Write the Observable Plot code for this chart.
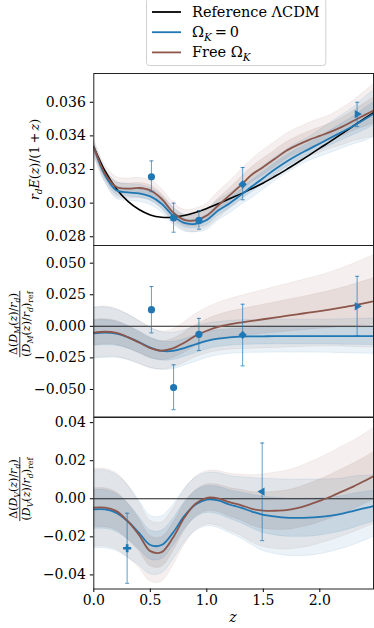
<!DOCTYPE html>
<html><head><meta charset="utf-8">
<script src="https://cdn.jsdelivr.net/npm/d3@7"></script>
<script src="https://cdn.jsdelivr.net/npm/@observablehq/plot@0.6"></script>
<style>
body{margin:0;background:#fff;}
#wrap{position:relative;width:374px;height:628px;overflow:hidden;font-family:"DejaVu Serif",serif;}
#wrap > svg{position:absolute;left:0;overflow:visible;}
</style></head><body><div id="wrap"></div>
<script>
// ---------- data ----------
const zGrid = [0,0.1,0.2,0.3,0.4,0.5,0.6,0.7,0.8,0.9,1.0,1.1,1.2,1.3,1.4,1.5,1.6,1.7,1.8,1.9,2.0,2.1,2.2,2.3,2.4,2.5];

// panel 1: r_d E(z)/(1+z)
const hzRef   = [0.03334,0.03190,0.03086,0.03012,0.02962,0.02930,0.02916,0.02916,0.02926,0.02944,0.02968,0.02996,0.03026,0.03055,0.03087,0.03120,0.03158,0.03198,0.03240,0.03283,0.03327,0.03370,0.03415,0.03460,0.03505,0.03550];
const hzFlat  = [0.03334,0.03165,0.03076,0.03064,0.03058,0.03040,0.02996,0.02926,0.02882,0.02877,0.02900,0.02956,0.02998,0.03048,0.03100,0.03150,0.03200,0.03245,0.03285,0.03320,0.03355,0.03390,0.03425,0.03460,0.03500,0.03540];
const hzFree  = [0.03334,0.03175,0.03096,0.03086,0.03090,0.03076,0.03026,0.02946,0.02900,0.02897,0.02926,0.02986,0.03046,0.03106,0.03170,0.03215,0.03262,0.03310,0.03345,0.03375,0.03400,0.03425,0.03455,0.03490,0.03525,0.03560];
const hzFlatSig = [0.0002,0.0002,0.00025,0.00025,0.00025,0.00025,0.00025,0.00025,0.00025,0.00025,0.0003,0.0003,0.0003,0.0003,0.00035,0.00035,0.00035,0.00035,0.00035,0.00035,0.0004,0.00045,0.0005,0.00055,0.00065,0.0007];
const hzFreeSig = [0.00025,0.00025,0.0003,0.0003,0.0003,0.0003,0.0003,0.0003,0.0003,0.00035,0.00035,0.0004,0.0004,0.00045,0.00045,0.0005,0.0005,0.0005,0.0005,0.0005,0.0005,0.0005,0.00055,0.0006,0.0007,0.0008];

// panel 2: Delta(D_M/r_d)/(D_M/r_d)_ref
const dmFlat = [-0.0055,-0.0050,-0.0058,-0.0085,-0.0125,-0.0168,-0.0195,-0.0195,-0.0172,-0.0142,-0.0115,-0.0098,-0.0088,-0.0082,-0.0080,-0.0079,-0.0078,-0.0078,-0.0078,-0.0078,-0.0078,-0.0078,-0.0078,-0.0078,-0.0078,-0.0078];
const dmFree = [-0.0050,-0.0043,-0.0052,-0.0085,-0.0128,-0.0172,-0.0192,-0.0175,-0.0130,-0.0075,-0.0035,-0.0005,0.0015,0.0030,0.0043,0.0056,0.0069,0.0082,0.0095,0.0108,0.0121,0.0135,0.0150,0.0166,0.0184,0.0203];
const dmFlatSig = [0.010,0.010,0.0095,0.009,0.0085,0.008,0.0075,0.0072,0.007,0.007,0.0068,0.0066,0.0065,0.0065,0.0065,0.0065,0.0065,0.0065,0.0065,0.0065,0.0065,0.0066,0.0067,0.0068,0.0069,0.007];
const dmFreeSig = [0.010,0.010,0.0095,0.009,0.0085,0.008,0.0075,0.0075,0.008,0.0085,0.009,0.0095,0.010,0.0105,0.011,0.0115,0.012,0.0125,0.013,0.0135,0.014,0.0147,0.0155,0.0165,0.0175,0.0185];

// panel 3: Delta(D_V/r_d)/(D_V/r_d)_ref
const dvFlat = [-0.0056,-0.0056,-0.0074,-0.0118,-0.0179,-0.0243,-0.0243,-0.0179,-0.0091,-0.0030,-0.0004,-0.0009,-0.0030,-0.0047,-0.0067,-0.0085,-0.0093,-0.0099,-0.0100,-0.0099,-0.0095,-0.0088,-0.0078,-0.0063,-0.0049,-0.0035];
const dvFree = [-0.0047,-0.0047,-0.0065,-0.0118,-0.0190,-0.0275,-0.0280,-0.0205,-0.0100,-0.0026,0.0005,0.0002,-0.0018,-0.0033,-0.0053,-0.0062,-0.0063,-0.0060,-0.0049,-0.0032,-0.0011,0.0012,0.0039,0.0065,0.0095,0.0127];
const dvFlatSig = [0.0102,0.0102,0.010,0.0095,0.0085,0.0077,0.0075,0.0072,0.007,0.007,0.007,0.0072,0.0075,0.008,0.0088,0.0095,0.0098,0.010,0.010,0.010,0.0098,0.0095,0.0092,0.009,0.0085,0.008];
const dvFreeSig = [0.0102,0.0102,0.010,0.0095,0.0085,0.008,0.0078,0.0075,0.0072,0.007,0.007,0.0072,0.0075,0.008,0.0088,0.0095,0.010,0.0103,0.0106,0.011,0.0112,0.0115,0.0118,0.012,0.0123,0.0127];

// measurements
const ptZ     = [0.51,0.706,0.93,1.317,2.33];
const ptShape = ["circle","circle","circle","diamond","triRight"];
const hzVal = [0.03157,0.02912,0.02897,0.03112,0.03530];
const hzHi  = [0.03251,0.03000,0.02956,0.03212,0.03600];
const hzLo  = [0.03068,0.02827,0.02845,0.03020,0.03455];
const dmVal = [0.0132,-0.0485,-0.0063,-0.0068,0.0158];
const dmHi  = [0.0315,-0.0305,0.0063,0.0175,0.0396];
const dmLo  = [-0.0052,-0.0660,-0.0192,-0.0313,-0.0075];
const dvZ     = [0.295,1.49];
const dvShape = ["plus","triLeft"];
const dvVal = [-0.0260,0.0038];
const dvHi  = [-0.0076,0.0293];
const dvLo  = [-0.0444,-0.0220];

const xTicks = [0,0.5,1.0,1.5,2.0];
const hzTicks = [0.028,0.030,0.032,0.034,0.036];
const dmTicks = [-0.050,-0.025,0,0.025,0.050];
const dvTicks = [-0.04,-0.02,0,0.02,0.04];

// ---------- styling ----------
const BLUE = "#1f77b4", BROWN = "#8c564b";
const FONT = '"DejaVu Serif", serif';

const symbols = {
  circle: "circle",
  plus: "cross",
  diamond: {draw(c, s){ const r = Math.sqrt(s/Math.PI)*1.25; c.moveTo(0,-r); c.lineTo(r,0); c.lineTo(0,r); c.lineTo(-r,0); c.closePath(); }},
  triRight: {draw(c, s){ const r = Math.sqrt(s/Math.PI)*1.45; c.moveTo(r,0); c.lineTo(-r/2,-r*0.866); c.lineTo(-r/2,r*0.866); c.closePath(); }},
  triLeft: {draw(c, s){ const r = Math.sqrt(s/Math.PI)*1.45; c.moveTo(-r,0); c.lineTo(r/2,-r*0.866); c.lineTo(r/2,r*0.866); c.closePath(); }}
};
const capSymbol = {draw(c, s){ const w = Math.sqrt(s/Math.PI); c.moveTo(-w,0); c.lineTo(w,0); }};

function band(c, s, k){ return zGrid.map((z,i)=>({z, lo:c[i]-k*s[i], hi:c[i]+k*s[i]})); }
function line(c){ return zGrid.map((z,i)=>({z, v:c[i]})); }

function modelBands(flat, flatSig, free, freeSig){
  const o = {x:"z", y1:"lo", y2:"hi", curve:"catmull-rom", clip:true, strokeWidth:0.8};
  return [
    Plot.areaY(band(free, freeSig, 2), {...o, fill:BROWN, fillOpacity:0.09, stroke:BROWN, strokeOpacity:0.1}),
    Plot.areaY(band(flat, flatSig, 2), {...o, fill:BLUE, fillOpacity:0.09, stroke:BLUE, strokeOpacity:0.12}),
    Plot.areaY(band(free, freeSig, 1), {...o, fill:BROWN, fillOpacity:0.13, stroke:BROWN, strokeOpacity:0.1}),
    Plot.areaY(band(flat, flatSig, 1), {...o, fill:BLUE, fillOpacity:0.13, stroke:BLUE, strokeOpacity:0.12})
  ];
}
function modelLines(flat, free){
  return [
    Plot.line(line(flat), {x:"z", y:"v", stroke:BLUE, strokeWidth:1.8, curve:"catmull-rom", clip:true}),
    Plot.line(line(free), {x:"z", y:"v", stroke:BROWN, strokeWidth:1.8, curve:"catmull-rom", clip:true})
  ];
}
function pointMarks(zs, shapes, vals, lo, hi){
  const d = zs.map((z,i)=>({z, v:vals[i], lo:lo[i], hi:hi[i], s:shapes[i]}));
  const marks = [
    Plot.ruleX(d, {x:"z", y1:"lo", y2:"hi", stroke:BLUE, strokeOpacity:0.7, strokeWidth:1}),
    Plot.dot(d, {x:"z", y:"lo", symbol:capSymbol, r:2, stroke:BLUE, strokeOpacity:0.8, fill:"none", strokeWidth:1}),
    Plot.dot(d, {x:"z", y:"hi", symbol:capSymbol, r:2, stroke:BLUE, strokeOpacity:0.8, fill:"none", strokeWidth:1})
  ];
  for (const k of Object.keys(symbols)) {
    const sub = d.filter(p => p.s === k);
    if (!sub.length) continue;
    const r = k === "circle" ? 3.6 : k === "plus" ? 3.4 : 3.3;
    marks.push(Plot.dot(sub, {x:"z", y:"v", symbol:symbols[k], r, fill:BLUE, stroke:"none"}));
  }
  return marks;
}

function panel({top, plotH, mb, ydom, yticks, yfmt, marks, showX}){
  const svg = Plot.plot({
    width:374, height: 3 + plotH + mb,
    marginLeft:93.3, marginRight:1, marginTop:3, marginBottom:mb,
    style:{fontFamily:FONT, fontSize:"14px", color:"#000", background:"transparent", overflow:"visible"},
    x: showX ? {domain:[0,2.475], ticks:xTicks, tickFormat:d3.format(".1f"), tickSize:3.5, tickPadding:3, label:null}
             : {domain:[0,2.475], axis:null},
    y: {domain:ydom, ticks:yticks, tickFormat:d3.format(yfmt), tickSize:3.5, tickPadding:4.5, label:null},
    marks:[...marks, Plot.frame({stroke:"#222", strokeWidth:1})]
  });
  svg.style.top = (top - 3) + "px";
  document.getElementById("wrap").appendChild(svg);
  return svg;
}

panel({top:73, plotH:172, mb:0, ydom:[0.02748,0.03771], yticks:hzTicks, yfmt:".3f",
  marks:[...modelBands(hzFlat,hzFlatSig,hzFree,hzFreeSig),
         Plot.line(line(hzRef), {x:"z", y:"v", stroke:"#000", strokeWidth:1.6, curve:"catmull-rom", clip:true}),
         ...modelLines(hzFlat,hzFree),
         ...pointMarks(ptZ, ptShape, hzVal, hzLo, hzHi)]});

panel({top:245, plotH:171.5, mb:0, ydom:[-0.0718,0.064], yticks:dmTicks, yfmt:".3f",
  marks:[...modelBands(dmFlat,dmFlatSig,dmFree,dmFreeSig),
         Plot.ruleY([0], {stroke:"#222", strokeWidth:1.1}),
         ...modelLines(dmFlat,dmFree),
         ...pointMarks(ptZ, ptShape, dmVal, dmLo, dmHi)]});

panel({top:416.5, plotH:171.5, mb:40, ydom:[-0.0474,0.0427], yticks:dvTicks, yfmt:".2f", showX:true,
  marks:[...modelBands(dvFlat,dvFlatSig,dvFree,dvFreeSig),
         Plot.ruleY([0], {stroke:"#222", strokeWidth:1.1}),
         ...modelLines(dvFlat,dvFree),
         ...pointMarks(dvZ, dvShape, dvVal, dvLo, dvHi)]});

// ---------- overlay: legend and math labels ----------
const ov = d3.select("#wrap").append("svg").attr("width",374).attr("height",628).style("top","0px")
  .attr("font-family", FONT);

function mathText(x, y, segs, size, rotate, anchor){
  const t = ov.append("text").attr("transform", `translate(${x},${y})` + (rotate ? " rotate(-90)" : ""))
    .attr("text-anchor", anchor || "middle").attr("font-size", size).attr("fill","#000");
  let shift = 0;
  for (const s of segs){
    const target = s.sub ? size*0.26 : 0;
    const ts = t.append("tspan").text(s.t).attr("dy", target - shift);
    shift = target;
    if (s.i) ts.attr("font-style","italic");
    if (s.sub) ts.attr("font-size", size*0.72);
  }
  return t;
}

// legend
const lg = ov.append("g");
const lgBox = lg.append("rect").attr("x",146.5).attr("y",-1.5).attr("height",67).attr("rx",3)
  .attr("fill","#fff").attr("fill-opacity",0.85).attr("stroke","#d0d0d0").attr("stroke-width",1);
const legendRows = [
  {c:"#000", segs:[{t:"Reference ΛCDM"}]},
  {c:BLUE, segs:[{t:"Ω"},{t:"K",i:true,sub:true},{t:"\u2009=\u20090"}]},
  {c:BROWN, segs:[{t:"Free Ω"},{t:"K",i:true,sub:true}]}
];
let lgRight = 0;
legendRows.forEach((r,i)=>{
  const y = 12 + i*20.2;
  lg.append("line").attr("x1",152).attr("x2",181).attr("y1",y).attr("y2",y).attr("stroke",r.c).attr("stroke-width",1.8);
  const t = mathText(192, y+5, r.segs, 14.5, false, "start");
  lgRight = Math.max(lgRight, 192 + t.node().getBBox().width);
});
lgBox.attr("width", lgRight + 6 - 146.5);

// y labels
mathText(39, 159.5, [{t:"r",i:true},{t:"d",i:true,sub:true},{t:"E",i:true},{t:"("},{t:"z",i:true},{t:")/(1\u2009+\u2009"},{t:"z",i:true},{t:")"}], 12.5, true);

function fracLabel(cy, L){
  const num = mathText(17, cy, [{t:"Δ("},{t:"D",i:true},{t:L,i:true,sub:true},{t:"("},{t:"z",i:true},{t:")/"},{t:"r",i:true},{t:"d",i:true,sub:true},{t:")"}], 11, true);
  const den = mathText(30, cy, [{t:"("},{t:"D",i:true},{t:L,i:true,sub:true},{t:"("},{t:"z",i:true},{t:")/"},{t:"r",i:true},{t:"d",i:true,sub:true},{t:")"},{t:"ref",sub:true}], 11, true);
  const w = Math.max(num.node().getBBox().width, den.node().getBBox().width);
  ov.append("line").attr("x1",19.8).attr("x2",19.8).attr("y1",cy-w/2).attr("y2",cy+w/2).attr("stroke","#000").attr("stroke-width",0.8);
}
fracLabel(324, "M");
fracLabel(489, "V");

mathText(233, 622, [{t:"z",i:true}], 14, false);
</script>
</body></html>
